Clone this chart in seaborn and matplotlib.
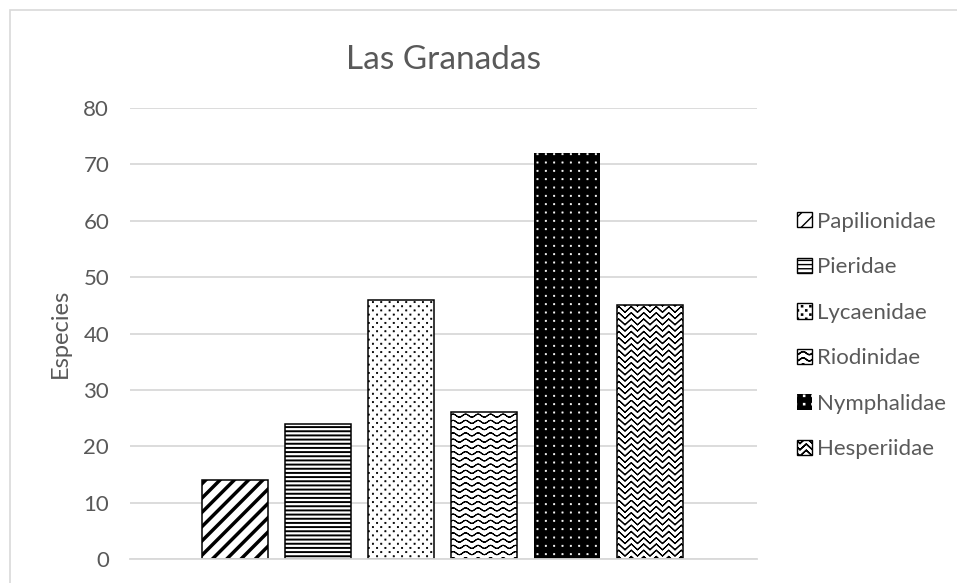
import warnings
import numpy as np
import matplotlib
matplotlib.use("Agg")
import matplotlib.pyplot as plt
from matplotlib import hatch as mhatch
from matplotlib.path import Path
from matplotlib.patches import Patch, Rectangle
import seaborn as sns

warnings.filterwarnings("ignore")

# Butterfly families recorded at Las Granadas and their species counts
families = ["Papilionidae", "Pieridae", "Lycaenidae", "Riodinidae", "Nymphalidae", "Hesperiidae"]
species = [14, 24, 46, 26, 72, 45]
y_ticks = [0, 10, 20, 30, 40, 50, 60, 70, 80]

# Fill styling per family (hatch letters are registered below)
face_colors = ["white", "white", "white", "white", "black", "white"]
hatch_colors = ["black", "black", "black", "black", "white", "black"]
hatches = ["D", "----", "S", "W", "G", "Z"]
hatch_widths = [2.5, 1.4, 0.5, 0.8, 0.5, 0.8]


# ---- custom hatch patterns (drawn in a unit tile that repeats) ----
def _segments(pairs):
    verts, codes = [], []
    for (a, b) in pairs:
        verts += [a, b]
        codes += [Path.MOVETO, Path.LINETO]
    return np.array(verts, float), np.array(codes, Path.code_type)


def _retraced(xs, ys):
    # run the curve forward then back so its fill encloses no area
    fx = np.concatenate([xs, xs[-2::-1]])
    fy = np.concatenate([ys, ys[-2::-1]])
    codes = np.full(len(fx), Path.LINETO, Path.code_type)
    codes[0] = Path.MOVETO
    return np.column_stack([fx, fy]), codes


def _squares(centers, side):
    h = side / 2
    verts, codes = [], []
    for cx, cy in centers:
        verts += [(cx - h, cy - h), (cx + h, cy - h), (cx + h, cy + h),
                  (cx - h, cy + h), (cx - h, cy - h)]
        codes += [Path.MOVETO, Path.LINETO, Path.LINETO, Path.LINETO, Path.CLOSEPOLY]
    return np.array(verts, float), np.array(codes, Path.code_type)


def diagonal_lines():
    n = 7
    return _segments([((0.0, k / n), (1.0, 1.0 + k / n)) for k in range(-n, n + 1)])


def staggered_dots():
    cols, rows = 12, 24
    pts = [((i + 0.25 + 0.5 * (j % 2)) / cols, (j + 0.5) / rows)
           for j in range(rows) for i in range(cols)]
    return _squares(pts, 0.012)


def grid_dots():
    n = 12
    pts = [((i + 0.5) / n, (j + 0.5) / n) for j in range(n) for i in range(n)]
    return _squares(pts, 0.012)


def waves():
    rows, periods, amp = 16, 8, 0.015
    xs = np.linspace(0, 1, periods * 16 + 1)
    parts = [_retraced(xs, (j + 0.5) / rows + amp * np.sin(2 * np.pi * periods * xs))
             for j in range(rows)]
    return np.vstack([p[0] for p in parts]), np.concatenate([p[1] for p in parts])


def zigzags():
    rows, periods, amp = 16, 8, 0.029
    xs = np.linspace(0, 1, periods * 2 + 1)
    sign = np.where(np.arange(len(xs)) % 2 == 0, -1.0, 1.0)
    parts = [_retraced(xs, (j + 0.5) / rows + amp * sign) for j in range(rows)]
    return np.vstack([p[0] for p in parts]), np.concatenate([p[1] for p in parts])


def register_hatch(char, builder):
    class _Pattern(mhatch.HatchPatternBase):
        def __init__(self, hatch, density):
            if char in hatch:
                self._v, self._c = builder()
                self.num_vertices = len(self._v)
            else:
                self.num_vertices = 0

        def set_vertices_and_codes(self, vertices, codes):
            vertices[:] = self._v
            codes[:] = self._c

    mhatch._hatch_types.append(_Pattern)


register_hatch("D", diagonal_lines)
register_hatch("S", staggered_dots)
register_hatch("G", grid_dots)
register_hatch("W", waves)
register_hatch("Z", zigzags)

# ---- figure ----
sns.set_style("white")
plt.rcParams["font.family"] = ["Lato", "DejaVu Sans"]
text_gray = "#595959"
grid_gray = "#d9d9d9"

fig = plt.figure(figsize=(9.57, 5.83), dpi=100)
W, H = 957, 583
ax = fig.add_axes([130 / W, 1 - 559 / H, (757 - 130) / W, (559 - 108) / H])

sns.barplot(x=families, y=species, hue=families, palette=face_colors,
            width=0.795, edgecolor="black", linewidth=1.1, saturation=1,
            legend=False, ax=ax)


def style_patch(p, i):
    p.set_facecolor(face_colors[i])
    p.set_hatch(hatches[i])
    if face_colors[i] == "black":
        p.set_edgecolor(hatch_colors[i])
        p.set_linewidth(0)
    else:
        p.set_edgecolor("black")
    if hasattr(p, "set_hatch_linewidth"):
        p.set_hatch_linewidth(hatch_widths[i])
    else:
        p._hatch_linewidth = hatch_widths[i]


for i, bar in enumerate(ax.patches):
    style_patch(bar, i)

ax.set_xlim(-1.265, 6.289)
ax.set_ylim(0, 80)
ax.set_yticks(y_ticks)
ax.set_xticks([])
ax.set_xlabel("")
ax.yaxis.grid(True, color=grid_gray, linewidth=1.3)
ax.set_axisbelow(True)
for side in ["top", "right", "left"]:
    ax.spines[side].set_visible(False)
ax.spines["bottom"].set_color(grid_gray)
ax.spines["bottom"].set_linewidth(1.3)
ax.tick_params(axis="y", length=0, pad=15, labelsize=16, labelcolor=text_gray)
ax.set_ylabel("Especies", fontsize=17, color=text_gray)
ax.yaxis.set_label_coords((60 - 130) / (757 - 130), 0.5)
ax.yaxis.label.set_va("center")

fig.text(443.5 / W, 1 - 60 / H, "Las Granadas", ha="center", va="center",
         fontsize=24, color=text_gray)

handles = []
for i, name in enumerate(families):
    h = Patch(label=name)
    style_patch(h, i)
    handles.append(h)

leg = ax.legend(handles=handles, loc="center left",
                bbox_to_anchor=(797 / W, 1 - 335.5 / H),
                bbox_transform=fig.transFigure, frameon=False, borderpad=0,
                borderaxespad=0, handlelength=0.68, handleheight=0.68,
                handletextpad=0.2, labelspacing=1.15, fontsize=16)
for t in leg.get_texts():
    t.set_color(text_gray)

fig.add_artist(Rectangle((10 / W, -0.1), 2, 1 - 10 / H + 0.1,
                         transform=fig.transFigure, fill=False,
                         edgecolor=grid_gray, linewidth=1.2))

fig.savefig("out.png", dpi=100)
